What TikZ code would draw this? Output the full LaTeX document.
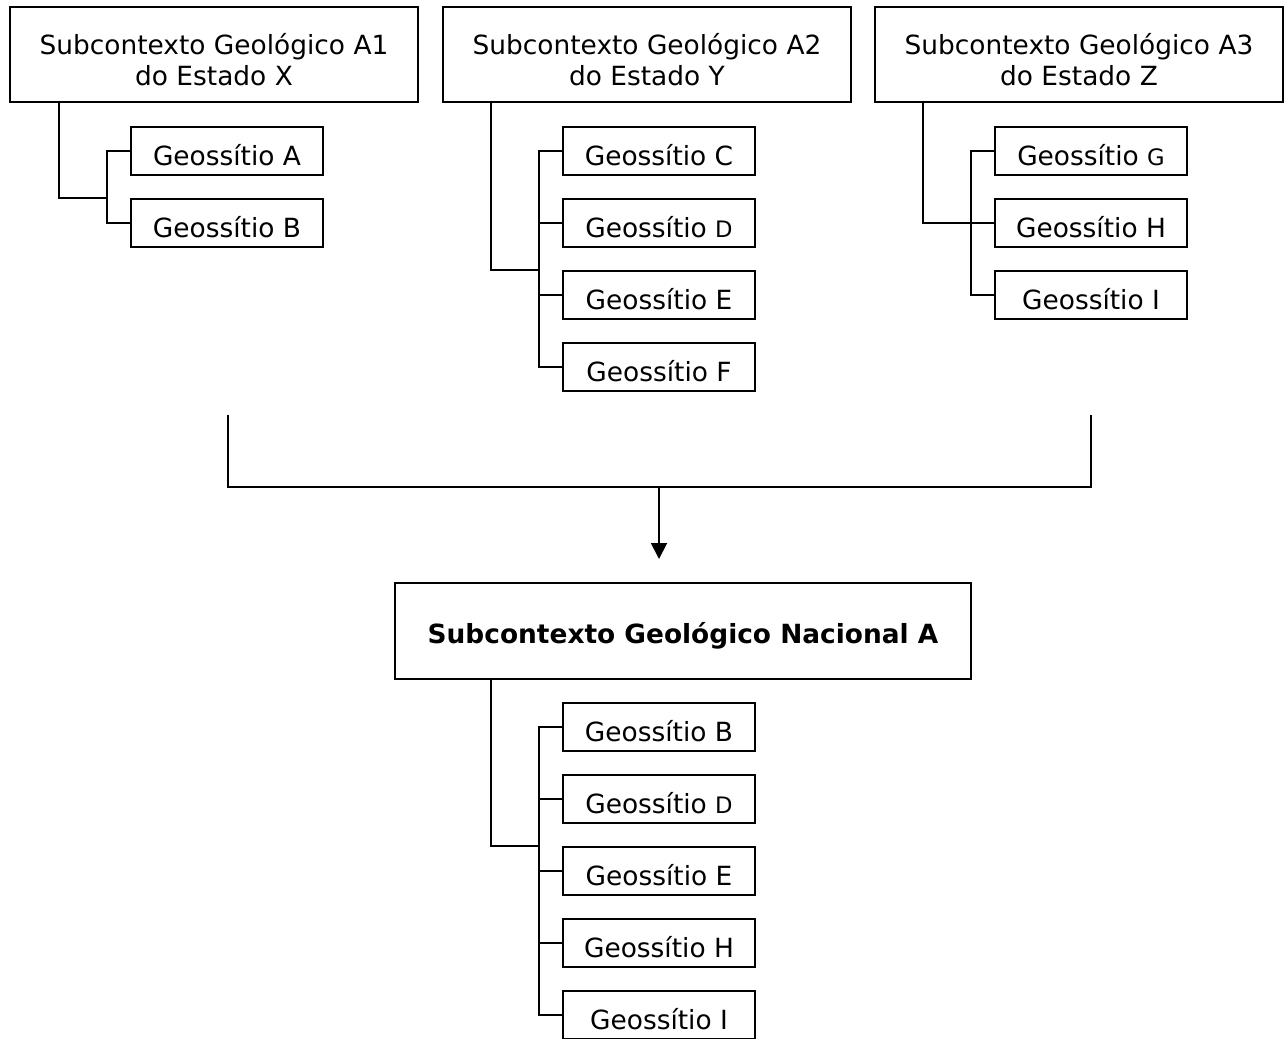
\documentclass[tikz,border=0pt]{standalone}
\usepackage{fontspec}
\setmainfont{DejaVu Sans}
\usetikzlibrary{arrows.meta}
\newcommand{\lbl}[1]{{\fontsize{17}{20}\selectfont #1}}
\begin{document}
\begin{tikzpicture}[x=0.75pt,y=-0.75pt,
  every node/.style={font=\fontsize{19.8}{23.3}\selectfont},
  parentbox/.style={draw,line width=1.4pt,inner sep=0pt,align=center,
    minimum width=306pt,minimum height=71.25pt,text height=47.2pt,text depth=0pt},
  sitebox/.style={draw,line width=1.4pt,inner sep=0pt,
    minimum width=144pt,minimum height=36pt,text height=21.8pt,text depth=0pt},
  nationbox/.style={draw,line width=1.4pt,inner sep=0pt,
    minimum width=432pt,minimum height=72pt,text height=18.2pt,text depth=0pt,
    font=\fontsize{19.8}{23.3}\selectfont\bfseries},
  link/.style={line width=1.4pt}]
\useasboundingbox (0,0) rectangle (1284,1038);

% State-level subcontexts
\node[parentbox] (A1) at (214,54.5) {Subcontexto Geológico A1\\do Estado X};
\node[parentbox] (A2) at (647,54.5) {Subcontexto Geológico A2\\do Estado Y};
\node[parentbox] (A3) at (1079,54.5) {Subcontexto Geológico A3\\do Estado Z};

% Geosites of A1
\node[sitebox] (gA) at (227,151) {Geossítio A};
\node[sitebox] (gB) at (227,223) {Geossítio B};
% Geosites of A2
\node[sitebox] (gC) at (659,151) {Geossítio C};
\node[sitebox] (gD) at (659,223) {Geossítio \lbl{D}};
\node[sitebox] (gE) at (659,295) {Geossítio E};
\node[sitebox] (gF) at (659,367) {Geossítio F};
% Geosites of A3
\node[sitebox] (gG) at (1091,151) {Geossítio \lbl{G}};
\node[sitebox] (gH) at (1091,223) {Geossítio H};
\node[sitebox] (gI) at (1091,295) {Geossítio I};

% National subcontext
\node[nationbox] (N) at (683,631) {Subcontexto Geológico Nacional A};
\node[sitebox] (nB) at (659,727) {Geossítio B};
\node[sitebox] (nD) at (659,799) {Geossítio \lbl{D}};
\node[sitebox] (nE) at (659,871) {Geossítio E};
\node[sitebox] (nH) at (659,943) {Geossítio H};
\node[sitebox] (nI) at (659,1015) {Geossítio I};

% Trunk and bar positions
\coordinate (t1) at (59,0);   \coordinate (b1) at (107,0);
\coordinate (t2) at (491,0);  \coordinate (b2) at (539,0);
\coordinate (t3) at (923,0);  \coordinate (b3) at (971,0);
\coordinate (t4) at (491,0);  \coordinate (b4) at (539,0);

% Tree of A1
\draw[link] (A1.south -| t1) |- (b1 |- gB.north);
\draw[link] (gA.west) -| (b1 |- gB.west) -- (gB.west);
% Tree of A2
\draw[link] (A2.south -| t2) |- (b2 |- gE.north);
\draw[link] (gC.west) -| (b2 |- gF.west) -- (gF.west);
\foreach \n in {gD,gE} \draw[link] (\n.west) -- (\n.west -| b2);
% Tree of A3
\draw[link] (A3.south -| t3) |- (gH.west);
\draw[link] (gG.west) -| (b3 |- gI.west) -- (gI.west);
% Tree of the national subcontext
\draw[link] (N.south -| t4) |- (b4 |- nE.north);
\draw[link] (nB.west) -| (b4 |- nI.west) -- (nI.west);
\foreach \n in {nD,nE,nH} \draw[link] (\n.west) -- (\n.west -| b4);

% Merge into the national subcontext
\coordinate (ml) at (228,415);
\coordinate (mr) at (1091,415);
\coordinate (mj) at (659,487);
\coordinate (tip) at (659,559);
\draw[link] (ml) |- (mj) -| (mr);
\draw[link,-{Triangle[length=12pt,width=12pt]}] (mj) -- (tip);
\end{tikzpicture}
\end{document}
